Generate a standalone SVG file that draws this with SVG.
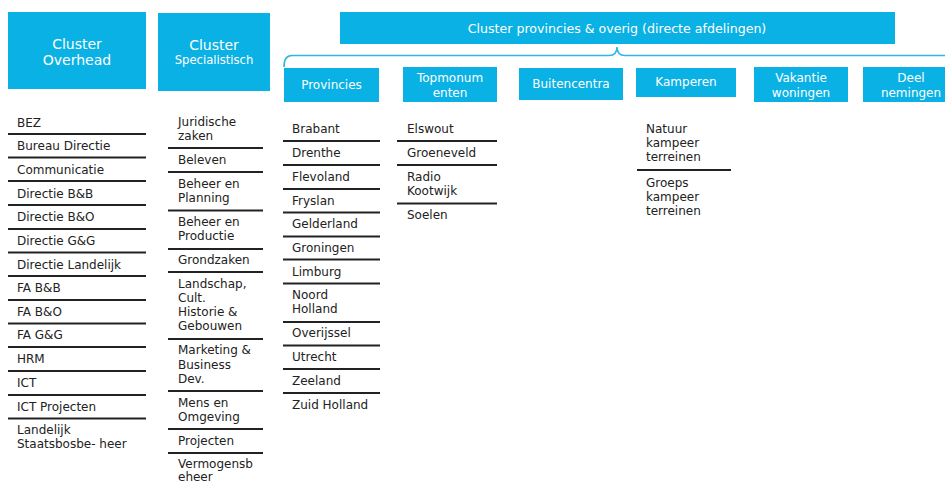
<svg xmlns="http://www.w3.org/2000/svg" width="945" height="484" viewBox="0 0 945 484">
<style>
.box{fill:#0AB1E4}
.wt{fill:#fff;font-family:"DejaVu Sans",Verdana,sans-serif;font-size:12px;text-anchor:middle}
.hd{font-size:14px}
.it{fill:#222;font-family:"DejaVu Sans",Verdana,sans-serif;font-size:12px}
.sep{stroke:#222;stroke-width:1.8}
.brace{fill:none;stroke:#2BB8E6;stroke-width:1.6}
</style>
<rect width="945" height="484" fill="#fff"/>
<g id="cluster-overhead">
<rect class="box" x="8" y="12" width="138" height="77"/>
<text class="wt hd" x="77" y="49">Cluster</text>
<text class="wt hd" x="77" y="65">Overhead</text>
</g>
<g id="cluster-specialistisch">
<rect class="box" x="158" y="13" width="112" height="78"/>
<text class="wt hd" x="214" y="50">Cluster</text>
<text class="wt" x="214" y="64" style="font-size:11.6px">Specialistisch</text>
</g>
<g id="cluster-provincies">
<rect class="box" x="340" y="12" width="555" height="32"/>
<text class="wt" x="617" y="33" style="font-size:12.6px">Cluster provincies &amp; overig (directe afdelingen)</text>
</g>
<g id="connectors">
<path class="brace" d="M284,67 Q284,55.5 292,55.5 L609,55.5 Q617,55.5 617,47 Q617,55.5 625,55.5 L945,55.5"/>
</g>
<g id="provincies">
<rect class="box" x="284" y="68" width="95" height="34"/>
<text class="wt" x="331.5" y="89">Provincies</text>
</g>
<g id="topmonumenten">
<rect class="box" x="403" y="67" width="94" height="35"/>
<text class="wt" x="450" y="82">Topmonum</text>
<text class="wt" x="450" y="97">enten</text>
</g>
<g id="buitencentra">
<rect class="box" x="519" y="68" width="104" height="32"/>
<text class="wt" x="571" y="88">Buitencentra</text>
</g>
<g id="kamperen">
<rect class="box" x="636" y="68" width="100" height="29"/>
<text class="wt" x="686" y="86">Kamperen</text>
</g>
<g id="vakantiewoningen">
<rect class="box" x="754" y="67" width="94" height="35"/>
<text class="wt" x="801" y="82">Vakantie</text>
<text class="wt" x="801" y="97">woningen</text>
</g>
<g id="deelnemingen">
<rect class="box" x="863" y="67" width="100" height="35"/>
<text class="wt" x="911" y="82">Deel</text>
<text class="wt" x="911" y="97">nemingen</text>
</g>
<g id="list-overhead">
<text class="it" x="17" y="127">BEZ</text>
<text class="it" x="17" y="150">Bureau Directie</text>
<text class="it" x="17" y="174">Communicatie</text>
<text class="it" x="17" y="198">Directie B&amp;B</text>
<text class="it" x="17" y="221">Directie B&amp;O</text>
<text class="it" x="17" y="245">Directie G&amp;G</text>
<text class="it" x="17" y="269">Directie Landelijk</text>
<text class="it" x="17" y="292">FA B&amp;B</text>
<text class="it" x="17" y="316">FA B&amp;O</text>
<text class="it" x="17" y="339">FA G&amp;G</text>
<text class="it" x="17" y="363">HRM</text>
<text class="it" x="17" y="387">ICT</text>
<text class="it" x="17" y="411">ICT Projecten</text>
<text class="it" x="17" y="434">Landelijk</text>
<text class="it" x="17" y="448">Staatsbosbe- heer</text>
<path class="sep" d="M8,134H146M8,157.5H146M8,181H146M8,205H146M8,229H146M8,252.5H146M8,276H146M8,300H146M8,323.5H146M8,347H146M8,371H146M8,395H146M8,418.5H146"/>
</g>
<g id="list-specialistisch">
<text class="it" x="178" y="126">Juridische</text>
<text class="it" x="178" y="140">zaken</text>
<text class="it" x="178" y="164">Beleven</text>
<text class="it" x="178" y="188">Beheer en</text>
<text class="it" x="178" y="202">Planning</text>
<text class="it" x="178" y="226">Beheer en</text>
<text class="it" x="178" y="240">Productie</text>
<text class="it" x="178" y="264">Grondzaken</text>
<text class="it" x="178" y="288">Landschap,</text>
<text class="it" x="178" y="302">Cult.</text>
<text class="it" x="178" y="316">Historie &amp;</text>
<text class="it" x="178" y="330">Gebouwen</text>
<text class="it" x="178" y="354">Marketing &amp;</text>
<text class="it" x="178" y="369">Business</text>
<text class="it" x="178" y="383">Dev.</text>
<text class="it" x="178" y="407">Mens en</text>
<text class="it" x="178" y="421">Omgeving</text>
<text class="it" x="178" y="445">Projecten</text>
<text class="it" x="178" y="468">Vermogensb</text>
<text class="it" x="178" y="481">eheer</text>
<path class="sep" d="M168,148H263M168,172H263M168,210.5H263M168,249H263M168,272H263M168,339H263M168,391H263M168,429H263M168,453H263"/>
</g>
<g id="list-provincies">
<text class="it" x="292" y="133">Brabant</text>
<text class="it" x="292" y="157">Drenthe</text>
<text class="it" x="292" y="181">Flevoland</text>
<text class="it" x="292" y="205">Fryslan</text>
<text class="it" x="292" y="228">Gelderland</text>
<text class="it" x="292" y="252">Groningen</text>
<text class="it" x="292" y="276">Limburg</text>
<text class="it" x="292" y="299">Noord</text>
<text class="it" x="292" y="313">Holland</text>
<text class="it" x="292" y="337">Overijssel</text>
<text class="it" x="292" y="361">Utrecht</text>
<text class="it" x="292" y="385">Zeeland</text>
<text class="it" x="292" y="409">Zuid Holland</text>
<path class="sep" d="M283,141H380M283,165H380M283,189H380M283,212.5H380M283,236.5H380M283,259.5H380M283,283.5H380M283,322H380M283,345.5H380M283,369H380M283,393H380"/>
</g>
<g id="list-topmonumenten">
<text class="it" x="407" y="133">Elswout</text>
<text class="it" x="407" y="157">Groeneveld</text>
<text class="it" x="407" y="181">Radio</text>
<text class="it" x="407" y="195">Kootwijk</text>
<text class="it" x="407" y="219">Soelen</text>
<path class="sep" d="M397,141H497M397,165H497M397,203.5H497"/>
</g>
<g id="list-kamperen">
<text class="it" x="646" y="133">Natuur</text>
<text class="it" x="646" y="147">kampeer</text>
<text class="it" x="646" y="161">terreinen</text>
<text class="it" x="646" y="187">Groeps</text>
<text class="it" x="646" y="201">kampeer</text>
<text class="it" x="646" y="215">terreinen</text>
<path class="sep" d="M637,170H731"/>
</g>
</svg>
